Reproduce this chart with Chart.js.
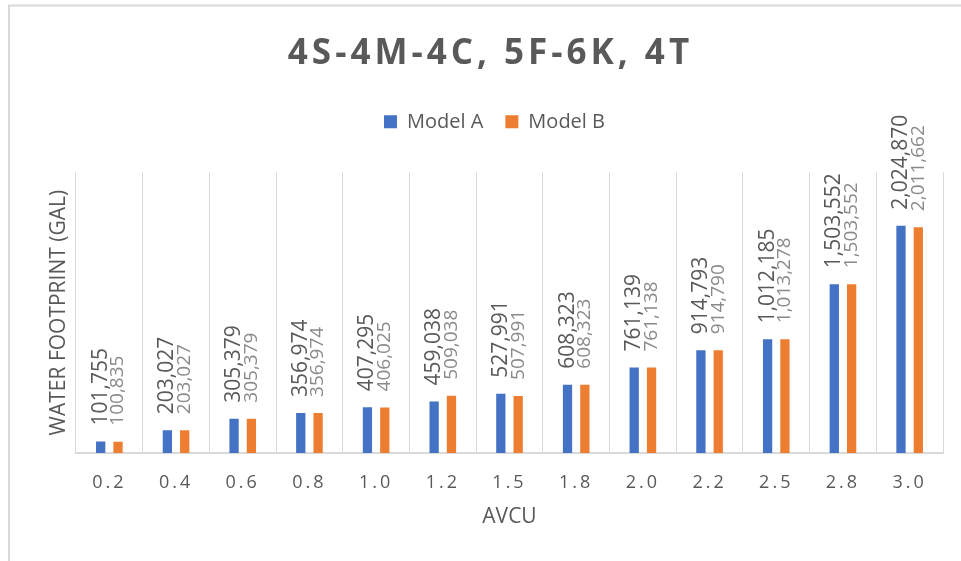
<!DOCTYPE html>
<html>
<head>
<meta charset="utf-8">
<script src="https://cdn.jsdelivr.net/npm/chart.js@4/dist/chart.umd.min.js"></script>
<style>
  html, body { margin: 0; padding: 0; background: #ffffff; }
  canvas { display: block; }
</style>
</head>
<body>
<canvas id="chart" width="961" height="561"></canvas>
<script>
// AVCU steps along the x axis
const categories = ['0.2', '0.4', '0.6', '0.8', '1.0', '1.2', '1.5', '1.8', '2.0', '2.2', '2.5', '2.8', '3.0'];

// Water footprint in gallons for each model
const modelA = [101755, 203027, 305379, 356974, 407295, 459038, 527991, 608323, 761139, 914793, 1012185, 1503552, 2024870];
const modelB = [100835, 203027, 305379, 356974, 406025, 509038, 507991, 608323, 761138, 914790, 1013278, 1503552, 2011662];

const seriesNames = ['Model A', 'Model B'];
const chartTitle = '4S-4M-4C, 5F-6K, 4T';
const xAxisTitle = 'AVCU';
const yAxisTitle = 'WATER FOOTPRINT (GAL)';
const yAxisMax = 2500000;

const TEXT_GREY = '#595959';
const GRID_GREY = '#d9d9d9';
const FONT = 'Open Sans';

// Per-series value label look (font size, colour)
const labelStyles = [
  { font: `21px "${FONT}"`, color: '#595959' },
  { font: `19px "${FONT}"`, color: '#8a8a8a' }
];

// White background plus the thin outer frame of the chart object
const frame = {
  id: 'frame',
  beforeDraw(chart) {
    const ctx = chart.ctx;
    ctx.save();
    ctx.fillStyle = '#ffffff';
    ctx.fillRect(0, 0, chart.width, chart.height);
    ctx.strokeStyle = GRID_GREY;
    ctx.lineWidth = 2;
    ctx.beginPath();
    ctx.moveTo(9, chart.height);
    ctx.lineTo(9, 5.5);
    ctx.lineTo(chart.width, 5.5);
    ctx.stroke();
    ctx.restore();
  }
};

// Rotated value labels sitting above each bar
const valueLabels = {
  id: 'valueLabels',
  afterDatasetsDraw(chart) {
    const ctx = chart.ctx;
    chart.data.datasets.forEach((ds, di) => {
      const meta = chart.getDatasetMeta(di);
      const st = labelStyles[di];
      meta.data.forEach((bar, i) => {
        ctx.save();
        ctx.translate(bar.x, bar.y - 16);
        ctx.rotate(-Math.PI / 2);
        ctx.font = st.font;
        ctx.fillStyle = st.color;
        ctx.textAlign = 'left';
        ctx.textBaseline = 'middle';
        ctx.fillText(ds.data[i].toLocaleString('en-US'), 0, 0);
        ctx.restore();
      });
    });
  }
};

// Letter spacing for the title and category labels, extra room under the legend
const spacing = {
  id: 'spacing',
  beforeLayout(chart) {
    const withSpacing = (obj, method, px) => {
      if (!obj || obj['__sp_' + method]) return;
      const orig = obj[method];
      obj[method] = function (...args) {
        const ctx = this.ctx;
        ctx.save();
        ctx.letterSpacing = px;
        const r = orig.apply(this, args);
        ctx.restore();
        return r;
      };
      obj['__sp_' + method] = true;
    };
    withSpacing(chart.titleBlock, 'draw', '4px');
    withSpacing(chart.scales.x, 'drawLabels', '3px');

    const lg = chart.legend;
    if (lg && !lg.__fitPatched) {
      const origFit = lg.fit;
      lg.fit = function () {
        origFit.call(this);
        this.height += 30.5;
      };
      const origDraw = lg.draw;
      lg.draw = function (...args) {
        const ctx = this.ctx;
        ctx.save();
        ctx.translate(4, 0);
        origDraw.apply(this, args);
        ctx.restore();
      };
      lg.__fitPatched = true;
    }
  }
};

new Chart(document.getElementById('chart'), {
  type: 'bar',
  data: {
    labels: categories,
    datasets: [
      { label: seriesNames[0], data: modelA, backgroundColor: '#4472C4', borderWidth: 0,
        categoryPercentage: 0.52, barPercentage: 0.535 },
      { label: seriesNames[1], data: modelB, backgroundColor: '#ED7D31', borderWidth: 0,
        categoryPercentage: 0.52, barPercentage: 0.535 }
    ]
  },
  options: {
    responsive: false,
    animation: false,
    devicePixelRatio: 1,
    layout: { padding: { left: 38, right: 18, top: 10, bottom: 27 } },
    plugins: {
      title: {
        display: true,
        text: chartTitle,
        color: TEXT_GREY,
        font: { family: FONT, size: 35, weight: 'bold' },
        padding: { top: 23, bottom: 14.8 }
      },
      legend: {
        display: true,
        position: 'top',
        labels: {
          color: TEXT_GREY,
          font: { family: FONT, size: 20 },
          boxWidth: 13,
          boxHeight: 13,
          padding: 22
        }
      },
      tooltip: { enabled: false }
    },
    scales: {
      x: {
        grid: { color: GRID_GREY, lineWidth: 1, drawTicks: false, offset: true },
        border: { color: GRID_GREY, width: 2 },
        ticks: { color: TEXT_GREY, font: { family: FONT, size: 18 }, padding: 19 },
        title: {
          display: true, text: xAxisTitle, color: TEXT_GREY,
          font: { family: FONT, size: 21 }, padding: { top: 11.3, bottom: 4 }
        },
        afterFit(scale) { scale.height = 81; }
      },
      y: {
        min: 0,
        max: yAxisMax,
        grid: { display: false, drawTicks: false },
        border: { display: false },
        ticks: { display: false },
        title: {
          display: true, text: yAxisTitle, color: TEXT_GREY,
          font: { family: FONT, size: 21 }, padding: { top: 8.4, bottom: 4.4 }
        }
      }
    }
  },
  plugins: [frame, valueLabels, spacing]
});
</script>
</body>
</html>
